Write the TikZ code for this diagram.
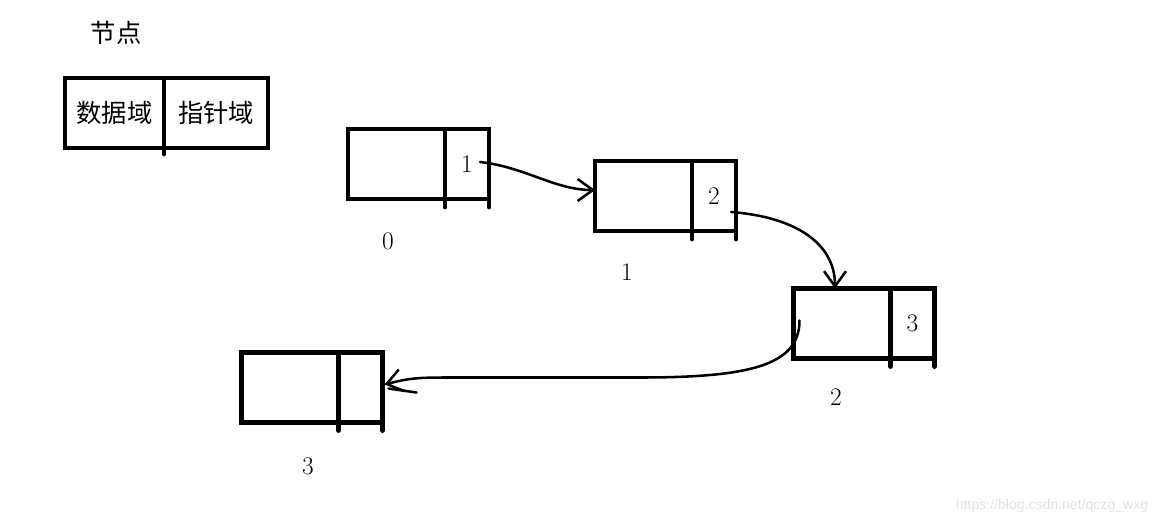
\documentclass[tikz,border=0pt]{standalone}
\usepackage{fontspec}
\setsansfont{Liberation Sans}
\newfontfamily\cjk{Noto Sans CJK SC}
\usetikzlibrary{arrows.meta,positioning,calc}

\tikzset{
  cell/.style={draw, line width=3.4pt, outer sep=0pt, inner sep=0pt,
    minimum height=1.75cm, font=\fontsize{18}{20}\selectfont},
  datacell/.style={cell, minimum width=2.425cm},
  ptrcell/.style={cell, minimum width=1.1cm},
  stub/.style={line width=3.4pt, line cap=round},
  link/.style={line width=1.8pt, line cap=round,
    -{Straight Barb[length=0.38cm,width=0.55cm,line width=1.8pt]}},
  idx/.style={font=\fontsize{18}{20}\selectfont}
}

\begin{document}
\begin{tikzpicture}[x=0.025cm, y=-0.025cm]
\useasboundingbox (0,0) rectangle (1169,522);

% legend: one node with its two fields
\node[font=\cjk\fontsize{18}{20}\selectfont] (title) at (116,33) {节点};
\node[cell, minimum width=2.475cm, font=\cjk\fontsize{18}{20}\selectfont] (ld) at (114.5,113) {数据域};
\node[cell, minimum width=2.6cm, font=\cjk\fontsize{18}{20}\selectfont, right=0pt of ld] (lp) {指针域};
\draw[stub] (lp.south west) -- ++(0,6);

% the four nodes of the list
\node[datacell] (d0) at (396.5,164) {};
\node[ptrcell, right=0pt of d0] (p0) {1};
\node[datacell] (d1) at (643.5,196) {};
\node[ptrcell, right=0pt of d1] (p1) {2};
\node[datacell] (d2) at (842,323.5) {};
\node[ptrcell, right=0pt of d2] (p2) {3};
\node[datacell] (d3) at (290,387.5) {};
\node[ptrcell, right=0pt of d3] (p3) {};

\foreach \n in {p0,p1,p2,p3} {
  \draw[stub] (\n.south west) -- ++(0,8);
  \draw[stub] (\n.south east) -- ++(0,8);
}

% index under each node
\node[idx] (i0) at (388,241) {0};
\node[idx] (i1) at (627,272) {1};
\node[idx] (i2) at (836,397) {2};
\node[idx] (i3) at (308,466) {3};

% links
\draw[link] ($(p0.east)+(-9,-2)$) .. controls +(45,5) and +(-40,0) .. ($(d1.west)+(0,-6)$);
\draw[link] ($(p1.east)+(-5,16)$) .. controls +(65,5) and +(0,-45) .. ($(d2.north)+(-7,0)$);
\draw[link] ($(d2.west)+(6,-3)$) .. controls +(0,45) and +(110,0) .. ($(p3.east)+(257,-10)$)
  -- ($(p3.east)+(60,-10)$) .. controls +(-30,0) and +(20,-5) .. ($(p3.east)+(2,-3)$);
\draw[line width=1.8pt, line cap=round] ($(p3.east)+(6,1)$) -- ++(28,4);

\node[font=\sffamily\fontsize{10}{12}\selectfont, text=black!12] (mark) at (1052,506) {https://blog.csdn.net/qczg\_wxg};
\end{tikzpicture}
\end{document}
